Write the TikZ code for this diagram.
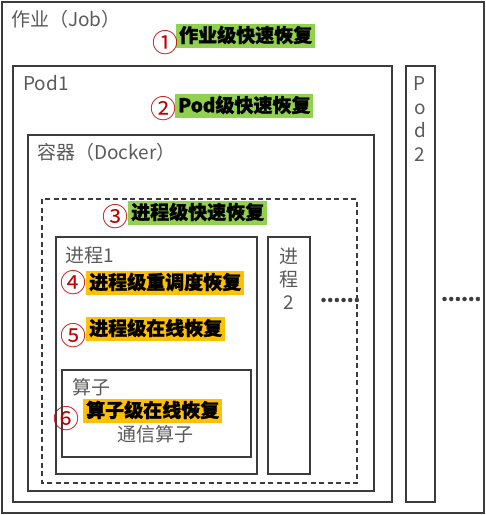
\documentclass[tikz,border=0pt]{standalone}
\usepackage{fontspec}
\setmainfont{Noto Sans CJK SC}[BoldFeatures={FakeBold=1.3}]
\usetikzlibrary{positioning}
\definecolor{linegray}{HTML}{3C3C3C}
\definecolor{labgray}{HTML}{5A5A5A}
\definecolor{hlgreen}{HTML}{92D050}
\definecolor{hlyellow}{HTML}{FFC000}
\definecolor{numred}{HTML}{C00000}
\tikzset{
  box/.style={draw=linegray, line width=1.4pt},
  lab/.style={text=labgray, font=\fontsize{19}{23}\selectfont, inner sep=0pt, anchor=west},
  hl/.style={font=\bfseries\fontsize{19}{23}\selectfont, inner xsep=3pt, inner ysep=1.5pt,
    text height=16.5pt, text depth=4pt, anchor=west},
  num/.style={text=numred, font=\fontsize{26}{26}\selectfont, inner sep=0pt},
}
\begin{document}
\begin{tikzpicture}[x=1pt, y=-1pt]
    \useasboundingbox (0,0) rectangle (486,515);
    % nested boxes
	\draw[box] (2, 2) rectangle (484, 513);
	\draw[box] (13, 66) rectangle (392, 502);
	\draw[box] (406, 66) rectangle (435, 502);
	\draw[box] (28, 135) rectangle (374, 491);
	\draw[box, dash pattern=on 5pt off 3.5pt] (42, 199) rectangle (357, 483);
	\draw[box] (56, 237) rectangle (257, 474);
	\draw[box] (268, 237) rectangle (310, 474);
	\draw[box] (62, 370) rectangle (251, 457);
	% plain labels
	\node[lab] (job) at (11, 19) {作业（Job）};
	\node[lab] (pod1) at (23, 83) {Pod1};
	\node[lab] (docker) at (37, 152) {容器（Docker）};
	\node[lab] (proc1) at (65, 255) {进程1};
	\node[lab] (op) at (72, 387) {算子};
	\node[lab] (comm) at (117, 434) {通信算子};
	\node[lab, anchor=center, align=center] (proc2) at (289, 279) {进\\程\\2};
	\node[lab, anchor=center, align=center, font=\fontsize{19}{23.5}\selectfont] (pod2) at (420, 119) {P\\o\\d\\2};
	\node[lab, text=linegray, font=\bfseries\fontsize{19}{23}\selectfont] (dots1) at (320, 300) {......};
	\node[lab, text=linegray, font=\bfseries\fontsize{19}{23}\selectfont] (dots2) at (441, 299) {......};
	% recovery levels
	\node[hl, fill=hlgreen] (lvl1) at (176, 36) {作业级快速恢复};
	\node[hl, fill=hlgreen] (lvl2) at (175, 106) {Pod级快速恢复};
	\node[hl, fill=hlgreen] (lvl3) at (128, 213) {进程级快速恢复};
	\node[hl, fill=hlyellow] (lvl4) at (86, 283) {进程级重调度恢复};
	\node[hl, fill=hlyellow] (lvl5) at (86, 329) {进程级在线恢复};
	\node[hl, fill=hlyellow] (lvl6) at (83, 411) {算子级在线恢复};
	\node[num] (n1) at (165, 43) {①};
	\node[num] (n2) at (163, 109) {②};
	\node[num] (n3) at (115, 217) {③};
	\node[num] (n4) at (73, 283) {④};
	\node[num] (n5) at (73, 336) {⑤};
	\node[num] (n6) at (66, 419) {⑥};
\end{tikzpicture}
\end{document}
